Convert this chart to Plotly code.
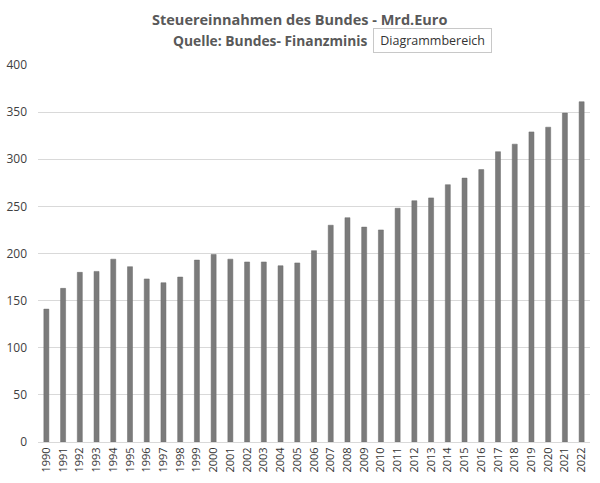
import plotly.graph_objects as go

years = [str(y) for y in range(1990, 2023)]
revenue = [141, 163, 180, 181, 194, 186, 173, 169, 175, 193, 199, 194, 191, 191, 187, 190,
           203, 230, 238, 228, 225, 248, 256, 259, 273, 280, 289, 308, 316, 329, 334, 349, 361]
y_ticks = [0, 50, 100, 150, 200, 250, 300, 350, 400]

title_line1 = "Steuereinnahmen des Bundes - Mrd.Euro"
title_line2_visible = "Quelle: Bundes- Finanzminis"
tooltip_text = "Diagrammbereich"

fig = go.Figure()
fig.add_trace(go.Bar(x=years, y=revenue, marker=dict(color="#7b7b7b", line=dict(color="#6a6a6a", width=0.5))))

font_family = "Open Sans, Liberation Sans, sans-serif"

def px_x(p):
    return (p - 38) / 552

def px_y(p):
    return (442 - p) / 377

fig.update_layout(
    width=600, height=483,
    margin=dict(l=38, r=10, t=65, b=41),
    paper_bgcolor="white", plot_bgcolor="white",
    bargap=0.7,
    showlegend=False,
    font=dict(family=font_family, color="#595959"),
    xaxis=dict(
        type="category", tickangle=-90, tickfont=dict(size=11, color="#333333"),
        showgrid=False, showline=True, linecolor="#d9d9d9", linewidth=1,
        ticks="", automargin=False,
    ),
    yaxis=dict(
        range=[0, 400], tickvals=y_ticks, tickfont=dict(size=12, color="#404040"),
        showgrid=True, gridcolor="#d9d9d9", gridwidth=1,
        zeroline=True, zerolinecolor="#d9d9d9", zerolinewidth=1,
        ticklabelstandoff=10, automargin=False,
    ),
    annotations=[
        dict(text="<b>" + title_line1 + "</b>", xref="paper", yref="paper", x=px_x(299),
             y=px_y(19), xanchor="center", yanchor="middle", showarrow=False,
             font=dict(size=14.5, color="#595959", family=font_family)),
        dict(text="<b>" + title_line2_visible + "</b>", xref="paper", yref="paper", x=px_x(171),
             y=px_y(41), xanchor="left", yanchor="middle", showarrow=False,
             font=dict(size=13.8, color="#595959", family=font_family)),
        dict(text="\u00a0" + tooltip_text + "\u00a0", xref="paper", yref="paper", x=px_x(373),
             y=px_y(41), xanchor="left", yanchor="middle", showarrow=False,
             font=dict(size=12.5, color="#333333", family=font_family),
             bgcolor="white", bordercolor="#c8c8c8", borderwidth=1, borderpad=3),
    ],
)

fig.write_html("out.html")
